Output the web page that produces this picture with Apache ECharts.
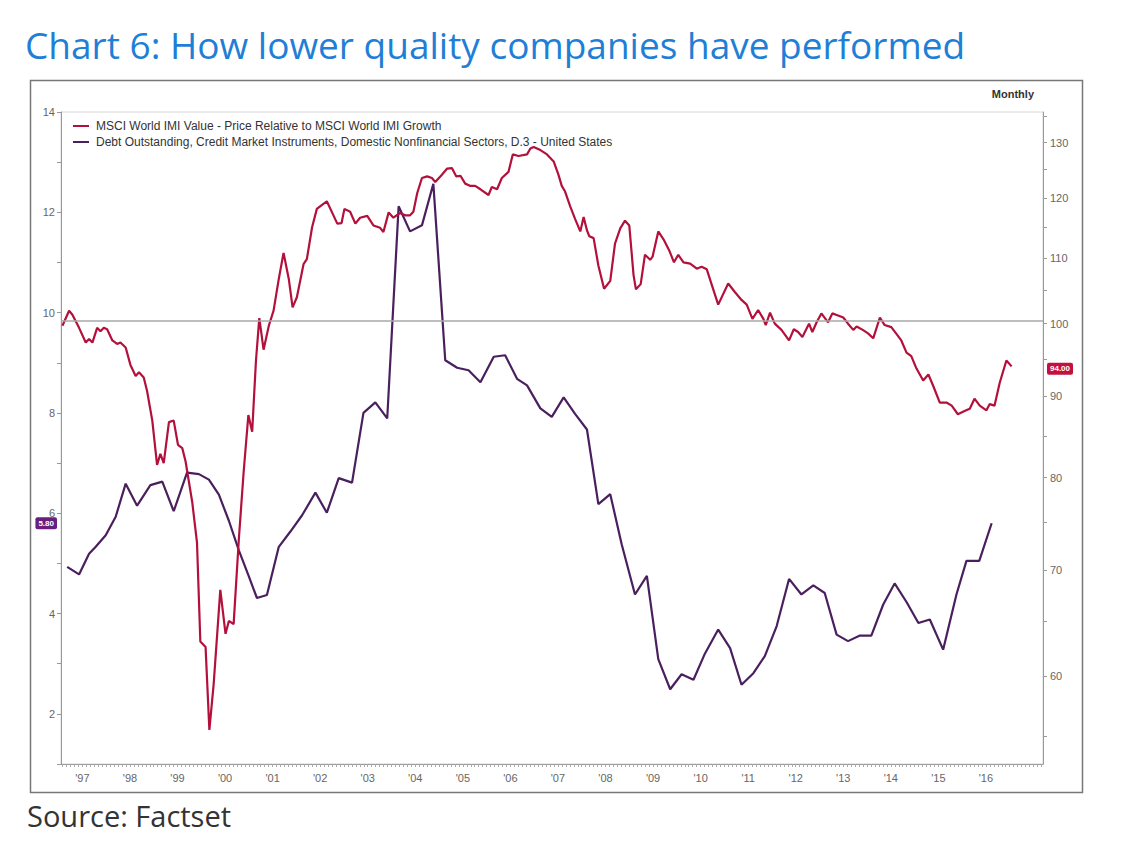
<!DOCTYPE html>
<html><head><meta charset="utf-8">
<script src="https://cdn.jsdelivr.net/npm/echarts@6/dist/echarts.min.js"></script>
<style>html,body{margin:0;padding:0;background:#fff}#c{width:1121px;height:862px}</style>
</head><body><div id="c"></div>
<script>
// ---- data ----
const years = [1997,1998,1999,2000,2001,2002,2003,2004,2005,2006,2007,2008,2009,2010,2011,2012,2013,2014,2015,2016];
const leftTicks = [2,4,6,8,10,12,14];
const rightTicks = [60,70,80,90,100,110,120,130];

const redName = 'MSCI World IMI Value - Price Relative to MSCI World IMI Growth';
const purpleName = 'Debt Outstanding, Credit Market Instruments, Domestic Nonfinancial Sectors, D.3 - United States';

// MSCI World IMI Value / Growth relative (right, log axis)
const redDates = [
1997.08,1997.22,1997.29,1997.43,1997.57,1997.64,1997.71,1997.81,1997.88,1997.95,
1998.02,1998.13,1998.23,1998.30,1998.41,1998.51,1998.62,1998.69,1998.79,1998.86,
1998.97,1999.07,1999.14,1999.21,1999.32,1999.42,1999.51,1999.60,1999.67,1999.81,
1999.91,1999.98,2000.09,2000.17,2000.26,2000.40,2000.51,2000.58,2000.68,2000.79,
2000.89,2000.99,2001.07,2001.15,2001.22,2001.31,2001.42,2001.52,2001.63,2001.73,
2001.84,2001.92,2002.01,2002.15,2002.22,2002.33,2002.43,2002.54,2002.64,2002.75,
2002.86,2002.95,2003.01,2003.13,2003.24,2003.34,2003.49,2003.62,2003.76,2003.83,
2003.94,2004.04,
2004.18,2004.29,2004.39,2004.46,2004.54,2004.64,2004.75,2004.85,2004.92,2005.06,
2005.17,2005.27,2005.36,2005.45,2005.55,2005.66,2005.76,2005.87,2006.04,2006.11,
2006.22,2006.32,2006.46,2006.55,2006.67,2006.85,2006.92,2006.99,2007.13,2007.27,
2007.41,2007.51,2007.58,2007.65,2007.76,2007.86,2007.97,2008.04,2008.11,2008.16,
2008.25,2008.35,2008.47,2008.60,2008.70,2008.81,2008.91,2009.00,2009.09,2009.14,
2009.24,2009.33,2009.44,2009.49,2009.61,2009.72,2009.84,2009.94,2010.03,2010.14,
2010.28,2010.42,2010.52,2010.63,2010.73,
2010.87,2011.08,2011.22,2011.36,2011.47,2011.59,2011.71,2011.82,2011.87,2011.96,
2012.06,2012.20,2012.36,2012.46,2012.55,2012.64,2012.78,2012.85,2012.94,2013.04,
2013.18,2013.27,2013.39,2013.50,2013.60,2013.71,2013.78,2013.91,2014.02,2014.13,
2014.27,2014.37,2014.51,2014.61,2014.72,2014.83,2014.93,2015.04,2015.18,2015.29,
2015.39,2015.53,2015.67,2015.78,2015.91,2016.05,2016.16,2016.26,2016.37,2016.51,
2016.58,2016.68,2016.79,2016.93,2017.04];
const redValues = [
99.7,101.9,101.3,99.4,97.3,97.8,97.3,99.4,98.9,99.4,
99.2,97.6,97.1,97.3,96.6,94.2,92.7,93.2,92.5,90.7,
86.9,81.5,82.8,81.7,86.7,86.9,83.9,83.5,81.9,77.2,
72.8,63.1,62.6,55.5,59.3,68.0,63.8,65.0,64.7,73.2,
80.6,87.6,85.5,94.8,100.8,96.3,99.7,101.9,106.7,110.8,
106.7,102.4,103.9,109.0,109.8,115.0,118.1,118.8,119.4,117.5,
115.6,115.7,118.1,117.6,115.6,116.6,116.9,115.3,114.9,114.2,
117.5,116.6,
117.4,117.0,117.0,117.6,120.8,123.5,123.8,123.5,122.8,124.1,
125.2,125.3,123.8,123.9,122.5,122.1,122.1,121.5,120.5,121.9,
121.5,123.5,124.6,127.8,127.5,127.8,128.9,129.2,128.6,127.8,
126.5,124.1,122.1,121.1,118.5,116.4,114.3,116.7,114.5,113.5,
113.2,108.8,105.2,106.4,112.3,114.8,116.1,115.3,107.3,105.1,
105.9,110.5,109.7,110.2,114.3,113.0,111.2,109.3,110.5,109.3,
109.1,108.3,108.6,108.2,105.9,
102.8,106.0,104.7,103.5,102.8,100.7,102.0,100.7,99.8,101.6,
100.0,99.1,97.6,99.2,98.8,98.1,100.0,98.8,100.2,101.5,
100.2,101.5,101.2,100.9,100.0,99.1,99.6,99.1,98.6,97.9,
100.9,99.8,99.5,98.6,97.6,95.9,95.4,93.7,92.1,92.9,
91.4,89.2,89.2,88.8,87.7,88.1,88.4,89.7,88.8,88.2,
89.0,88.8,91.8,94.8,94.0];

// Debt outstanding growth (left axis), quarterly
const purpleDates = [
1997.18,1997.43,1997.64,1997.78,1997.99,1998.20,1998.41,1998.65,1998.93,1999.18,
1999.42,1999.70,1999.95,2000.16,2000.37,2000.58,2000.79,2001.00,2001.17,2001.38,
2001.63,2001.87,2002.12,2002.40,2002.64,2002.89,2003.17,2003.41,2003.66,2003.91,
2004.15,2004.39,2004.64,2004.88,2005.13,2005.38,2005.62,2005.87,2006.15,2006.39,
2006.64,2006.85,2007.13,2007.37,2007.62,2007.86,2008.11,2008.35,2008.60,2008.84,
2009.12,2009.37,2009.61,2009.86,2010.10,2010.35,2010.59,2010.87,2011.12,2011.36,
2011.61,2011.85,2012.10,2012.36,2012.62,2012.87,2013.11,2013.36,2013.60,2013.85,
2014.09,2014.34,2014.58,2014.83,2015.08,2015.32,2015.60,2015.88,2016.09,2016.36,
2016.62];
const purpleValues = [
4.93,4.78,5.19,5.33,5.56,5.93,6.59,6.15,6.56,6.63,
6.04,6.81,6.78,6.67,6.37,5.85,5.26,4.74,4.31,4.37,
5.33,5.63,5.96,6.41,6.01,6.70,6.61,8.00,8.21,7.89,
12.12,11.62,11.74,12.57,9.05,8.90,8.85,8.61,9.12,9.15,
8.68,8.55,8.09,7.92,8.31,7.98,7.67,6.18,6.38,5.38,
4.38,4.75,3.09,2.49,2.79,2.68,3.20,3.68,3.31,2.58,
2.81,3.15,3.75,4.69,4.38,4.56,4.41,3.58,3.45,3.56,
3.56,4.18,4.60,4.23,3.81,3.88,3.28,4.38,5.05,5.05,
5.80];

// ---- build ----
const redLast = redValues[redValues.length - 1];
const purpleLast = purpleValues[purpleValues.length - 1];
const monthTicks = [];
for (let y = 1997; y <= 2017; y++) for (let m = 0; m < 12; m++) monthTicks.push(y + m / 12);

const chart = echarts.init(document.getElementById('c'), null, {renderer: 'svg'});
const axisFont = {fontSize: 11, color: '#666', fontFamily: 'Liberation Sans'};

chart.setOption({
  animation: false,
  backgroundColor: '#fff',
  title: [
    {text: 'Chart 6: How lower quality companies have performed', left: 20, top: 21,
     textStyle: {fontSize: 37, fontWeight: 'normal', color: '#1f7fd6', fontFamily: 'Open Sans'}},
    {text: 'Source: Factset', left: 22, top: 796,
     textStyle: {fontSize: 29, fontWeight: 'normal', color: '#333', fontFamily: 'Open Sans'}},
    {text: 'Monthly', right: 82, top: 83,
     textStyle: {fontSize: 11, fontWeight: 'bold', color: '#333', fontFamily: 'Liberation Sans'}}
  ],
  graphic: [{type: 'rect', left: 28, top: 78, silent: true, z: -1,
    shape: {width: 1052, height: 712}, style: {fill: 'none', stroke: '#777', lineWidth: 1.5}}],
  legend: {
    orient: 'vertical', left: 68, top: 115, itemGap: 4, itemWidth: 16, itemHeight: 2,
    icon: 'rect', data: [redName, purpleName],
    textStyle: {fontSize: 12, color: '#333', fontFamily: 'Liberation Sans', padding: [0, 0, 0, 2]}
  },
  grid: {left: 61, right: 78, top: 112, bottom: 98, show: true, borderColor: '#d6d6d6', borderWidth: 1},
  xAxis: {
    type: 'value', min: 1997.05, max: 2017.7,
    splitLine: {show: false},
    axisLine: {show: true, lineStyle: {color: '#999'}},
    axisTick: {show: true, customValues: monthTicks, length: 3, lineStyle: {color: '#aaa'}},
    axisLabel: Object.assign({customValues: years.map(y => y + 0.5), margin: 8,
      formatter: v => "'" + String(Math.floor(v)).slice(2)}, axisFont)
  },
  yAxis: [
    {type: 'value', min: 1, max: 14, position: 'left',
     splitLine: {show: false},
     axisLine: {show: true, lineStyle: {color: '#999'}},
     axisTick: {show: true, customValues: [1,2,3,4,5,6,7,8,9,10,11,12,13,14], length: 4, lineStyle: {color: '#999'}},
     axisLabel: Object.assign({customValues: leftTicks, margin: 6}, axisFont)},
    {type: 'value', min: Math.log(52.83), max: Math.log(135.9), position: 'right',
     splitLine: {show: false},
     axisLine: {show: true, lineStyle: {color: '#999'}},
     axisTick: {show: true, customValues: [55,60,65,70,75,80,85,90,95,100,105,110,115,120,125,130,135].map(Math.log), length: 4, lineStyle: {color: '#999'}},
     axisLabel: Object.assign({customValues: rightTicks.map(Math.log), margin: 7,
       formatter: v => String(Math.round(Math.exp(v)))}, axisFont)}
  ],
  series: [
    {name: redName, type: 'line', yAxisIndex: 1, showSymbol: false, z: 3,
     data: redDates.map((d, i) => [d, Math.log(redValues[i])]),
     lineStyle: {color: '#b3113c', width: 2.2}, itemStyle: {color: '#b3113c'},
     markLine: {silent: true, symbol: ['none', 'none'], animation: false,
       data: [
         {yAxis: Math.log(100), lineStyle: {color: '#a9a9a9', width: 1.5, type: 'solid'}, label: {show: false}},
         {yAxis: Math.log(redLast), lineStyle: {color: 'rgba(0,0,0,0)', width: 1, type: 'solid'},
          label: {show: true, position: 'end', distance: 4, formatter: redLast.toFixed(2), color: '#fff',
                  backgroundColor: '#c4103c', fontSize: 8, fontWeight: 'bold', padding: [2, 3], borderRadius: 2,
                  fontFamily: 'Liberation Sans'}}
       ]}},
    {name: purpleName, type: 'line', yAxisIndex: 0, showSymbol: false, z: 2,
     data: purpleDates.map((d, i) => [d, purpleValues[i]]),
     lineStyle: {color: '#4a1f5e', width: 2.2}, itemStyle: {color: '#4a1f5e'},
     markLine: {silent: true, symbol: ['none', 'none'], animation: false,
       data: [
         {yAxis: purpleLast, lineStyle: {color: 'rgba(0,0,0,0)', width: 1, type: 'solid'},
          label: {show: true, position: 'start', distance: 4, formatter: purpleLast.toFixed(2), color: '#fff',
                  backgroundColor: '#6a1e80', fontSize: 8, fontWeight: 'bold', padding: [2, 3], borderRadius: 2,
                  fontFamily: 'Liberation Sans'}}
       ]}}
  ]
});
</script></body></html>
